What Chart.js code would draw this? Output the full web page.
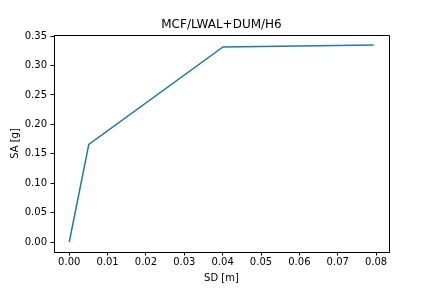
<!DOCTYPE html>
<html>
<head>
<meta charset="utf-8">
<script src="https://cdn.jsdelivr.net/npm/chart.js@4/dist/chart.umd.min.js"></script>
<style>
  html, body { margin: 0; padding: 0; background: #ffffff; }
  #wrap { width: 432px; height: 288px; }
</style>
</head>
<body>
<div id="wrap"><canvas id="c" width="432" height="288"></canvas></div>
<script>
// Data
const sdValues = [0.0, 0.0051, 0.0401, 0.0794];
const saValues = [0.0, 0.166, 0.3317, 0.3348];
const xTicks = [0.00, 0.01, 0.02, 0.03, 0.04, 0.05, 0.06, 0.07, 0.08];
const yTicks = [0.00, 0.05, 0.10, 0.15, 0.20, 0.25, 0.30, 0.35];
const chartTitle = 'MCF/LWAL+DUM/H6';
const xLabel = 'SD [m]';
const yLabel = 'SA [g]';

const points = sdValues.map((x, i) => ({ x: x, y: saValues[i] }));
const FONT = 'DejaVu Sans';

const frame = {
  id: 'frame',
  afterDatasetsDraw(chart) {
    const a = chart.chartArea;
    const ctx = chart.ctx;
    ctx.save();
    ctx.strokeStyle = '#000000';
    ctx.lineWidth = 1;
    const t = Math.round(a.top) + 0.5;
    const r = Math.round(a.right) + 0.5;
    const l = Math.round(a.left);
    const b = Math.round(a.bottom) + 1;
    ctx.beginPath();
    ctx.moveTo(l, t);
    ctx.lineTo(r, t);
    ctx.lineTo(r, b);
    ctx.stroke();
    ctx.restore();
  }
};

new Chart(document.getElementById('c'), {
  type: 'line',
  data: {
    datasets: [{
      data: points,
      borderColor: '#1f77b4',
      borderWidth: 1.5,
      pointRadius: 0,
      tension: 0,
      fill: false
    }]
  },
  options: {
    responsive: false,
    animation: false,
    devicePixelRatio: 1,
    layout: { padding: { left: 0, right: 43, top: 0, bottom: 0 } },
    plugins: {
      legend: { display: false },
      tooltip: { enabled: false },
      title: {
        display: true,
        text: chartTitle,
        fullSize: false,
        color: '#000000',
        font: { family: FONT, size: 12, weight: 'normal', lineHeight: 1.2 },
        padding: { top: 17.5, bottom: 3.1 }
      }
    },
    scales: {
      x: {
        type: 'linear',
        min: -0.00397,
        max: 0.08337,
        afterFit(scale) { scale.height = 36; },
        afterBuildTicks(scale) { scale.ticks = xTicks.map(v => ({ value: v })); },
        grid: { display: true, drawOnChartArea: false, drawTicks: true, tickLength: 3.5, color: '#000000', lineWidth: 1 },
        border: { display: true, color: '#000000', width: 1 },
        ticks: {
          color: '#000000',
          font: { family: FONT, size: 10 },
          padding: 0.5,
          maxRotation: 0,
          autoSkip: false,
          callback: (v) => Number(v).toFixed(2)
        },
        title: {
          display: true,
          text: xLabel,
          color: '#000000',
          font: { family: FONT, size: 10, lineHeight: 1.2 },
          padding: { top: 0, bottom: 4 }
        }
      },
      y: {
        type: 'linear',
        min: -0.01676,
        max: 0.3519,
        afterFit(scale) { scale.width = 54; },
        afterBuildTicks(scale) { scale.ticks = yTicks.map(v => ({ value: v })); },
        grid: { display: true, drawOnChartArea: false, drawTicks: true, tickLength: 3.5, color: '#000000', lineWidth: 1 },
        border: { display: true, color: '#000000', width: 1 },
        ticks: {
          color: '#000000',
          font: { family: FONT, size: 10 },
          padding: 3.5,
          autoSkip: false,
          callback: (v) => Number(v).toFixed(2)
        },
        title: {
          display: true,
          text: yLabel,
          color: '#000000',
          font: { family: FONT, size: 10, lineHeight: 1.2 },
          padding: { top: 9, bottom: 0 }
        }
      }
    }
  },
  plugins: [frame]
});
</script>
</body>
</html>
